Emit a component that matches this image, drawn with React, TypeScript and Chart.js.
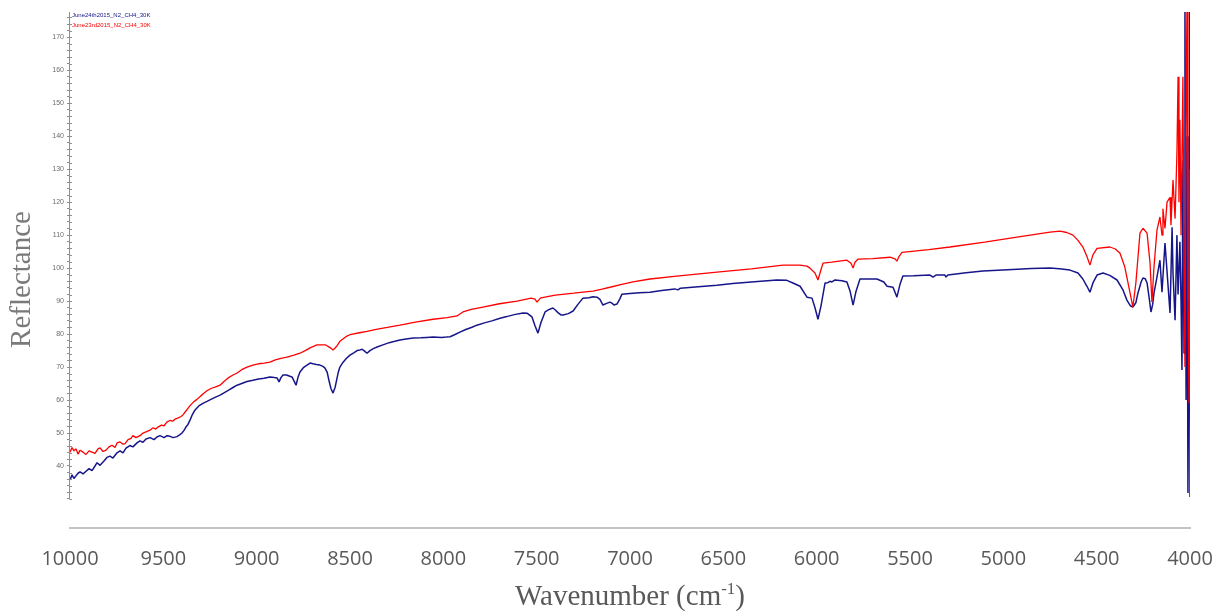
import { useEffect, useRef } from "react";
import { Chart, registerables } from "chart.js";

Chart.register(...registerables);

// Series names (inner legend)
const seriesNames = ["June24th2015_N2_CH4_30K", "June23rd2015_N2_CH4_30K"];
const seriesColors = ["#16168a", "#ff0000"];

// Axis ticks
const xTickValues = [10000, 9500, 9000, 8500, 8000, 7500, 7000, 6500, 6000, 5500, 5000, 4500, 4000];
const yTickMarks = Array.from({ length: 74 }, (_, i) => 30 + i * 2); // minor tick marks every 2 units
const yTickLabels = [40, 50, 60, 70, 80, 90, 100, 110, 120, 130, 140, 150, 160, 170];

const xTitle = "Wavenumber (cm";
const xTitleSup = "-1";
const xTitleEnd = ")";
const yTitle = "Reflectance";

// June24th2015_N2_CH4_30K : [wavenumber, reflectance]
const blueSpectrum: [number, number][] = [
  [10000, 35.8], [9989, 37.3], [9979, 36.2], [9968, 37.0], [9957, 37.8], [9946, 38.2],
  [9930, 37.6], [9914, 38.4], [9898, 39.2], [9882, 38.6], [9866, 40.0], [9855, 41.0],
  [9839, 40.2], [9818, 41.5], [9802, 42.6], [9786, 43.0], [9770, 42.4], [9748, 44.0],
  [9732, 44.6], [9716, 44.0], [9700, 45.4], [9679, 46.2], [9663, 45.8], [9641, 47.0],
  [9625, 47.6], [9609, 47.2], [9593, 48.2], [9571, 48.6], [9550, 48.0], [9534, 48.8],
  [9518, 49.2], [9496, 48.6], [9480, 49.2], [9464, 49.0], [9448, 48.6], [9427, 48.9],
  [9411, 49.5], [9400, 50.0], [9389, 50.8], [9379, 51.8], [9368, 52.6], [9357, 53.9],
  [9346, 55.4], [9330, 57.0], [9310, 58.2], [9288, 59.0], [9266, 59.6], [9245, 60.2],
  [9220, 60.9], [9196, 61.5], [9175, 62.2], [9150, 63.0], [9127, 63.8], [9105, 64.5],
  [9080, 65.0], [9052, 65.6], [9020, 66.0], [8990, 66.4], [8960, 66.6], [8929, 67.0],
  [8905, 66.8], [8891, 66.7], [8880, 65.5], [8870, 66.8], [8859, 67.6], [8840, 67.6],
  [8822, 67.2], [8811, 67.0], [8800, 65.8], [8789, 64.5], [8779, 66.8], [8768, 68.5],
  [8750, 69.8], [8730, 70.6], [8714, 71.2], [8698, 71.0], [8680, 70.8], [8661, 70.6],
  [8645, 70.2], [8634, 69.7], [8622, 68.4], [8613, 66.0], [8602, 63.5], [8591, 62.1],
  [8580, 63.8], [8570, 66.5], [8562, 68.6], [8554, 70.0], [8538, 71.4], [8520, 72.6],
  [8500, 73.6], [8478, 74.4], [8462, 75.0], [8446, 75.2], [8435, 75.4], [8425, 75.0],
  [8409, 74.2], [8393, 75.0], [8375, 75.6], [8355, 76.1], [8320, 76.8], [8290, 77.4],
  [8260, 77.8], [8232, 78.2], [8200, 78.5], [8160, 78.8], [8120, 78.9], [8090, 79.0],
  [8055, 79.1], [8010, 79.0], [7985, 79.1], [7964, 79.2], [7940, 79.8], [7911, 80.6],
  [7880, 81.4], [7850, 82.0], [7820, 82.7], [7780, 83.4], [7740, 84.0], [7696, 84.8],
  [7660, 85.3], [7620, 85.9], [7573, 86.4], [7550, 86.3], [7525, 85.2], [7509, 82.5],
  [7493, 80.3], [7477, 83.5], [7455, 86.7], [7435, 87.4], [7413, 87.9], [7400, 87.3],
  [7386, 86.5], [7370, 85.8], [7359, 85.8], [7330, 86.2], [7305, 87.0], [7279, 89.0],
  [7252, 90.9], [7220, 91.0], [7198, 91.3], [7177, 91.2], [7161, 90.5], [7145, 88.8],
  [7125, 89.3], [7107, 89.7], [7095, 89.3], [7086, 88.8], [7070, 89.1], [7055, 90.6],
  [7043, 92.1], [7000, 92.3], [6950, 92.5], [6893, 92.7], [6830, 93.2], [6760, 93.7],
  [6743, 93.4], [6730, 93.9], [6650, 94.3], [6534, 94.8], [6450, 95.3], [6350, 95.8],
  [6213, 96.4], [6160, 96.3], [6127, 95.5], [6089, 94.5], [6052, 91.2], [6025, 90.9],
  [6009, 88.0], [5993, 84.5], [5977, 88.5], [5955, 95.5], [5940, 95.6], [5929, 96.0],
  [5918, 95.8], [5902, 96.4], [5864, 96.2], [5838, 95.8], [5821, 93.0], [5805, 88.8],
  [5789, 93.0], [5768, 96.7], [5677, 96.7], [5640, 95.8], [5623, 94.5], [5591, 94.2],
  [5570, 91.2], [5554, 95.0], [5538, 97.6], [5480, 97.7], [5393, 97.9], [5377, 97.3],
  [5361, 97.9], [5313, 97.9], [5307, 97.3], [5297, 97.9], [5200, 98.6], [5109, 99.1],
  [4950, 99.6], [4850, 99.9], [4750, 100.0], [4700, 99.8], [4643, 99.4], [4600, 98.5],
  [4574, 96.7], [4552, 94.5], [4536, 92.7], [4520, 95.5], [4498, 97.9], [4466, 98.5],
  [4430, 97.8], [4391, 96.4], [4360, 93.5], [4338, 90.3], [4320, 88.6], [4306, 88.2],
  [4290, 89.5], [4279, 92.4], [4262, 95.8], [4252, 97.0], [4240, 96.8], [4230, 95.5],
  [4220, 91.5], [4209, 86.7], [4200, 89.0], [4193, 92.4], [4177, 97.3], [4161, 102.4],
  [4150, 92.7], [4134, 107.6], [4118, 95.0], [4107, 86.4], [4096, 112.4], [4091, 98.5],
  [4080, 84.2], [4070, 110.0], [4064, 92.0], [4054, 108.0], [4048, 90.0], [4043, 69.1],
  [4038, 132.7], [4032, 74.2], [4027, 180.0], [4021, 60.0], [4016, 140.0], [4011, 31.8],
  [4005, 90.0], [4002, 180.0], [4000, 30.6],
];

// June23rd2015_N2_CH4_30K : [wavenumber, reflectance]
const redSpectrum: [number, number][] = [
  [10000, 44.2], [9989, 45.6], [9979, 44.6], [9968, 45.2], [9957, 43.6], [9946, 44.8],
  [9930, 44.2], [9914, 43.5], [9898, 44.6], [9882, 44.2], [9866, 43.8], [9850, 45.2],
  [9839, 45.5], [9823, 44.4], [9807, 44.8], [9791, 45.8], [9775, 46.3], [9759, 45.6],
  [9748, 47.0], [9732, 47.3], [9716, 46.6], [9705, 46.8], [9689, 48.0], [9673, 48.4],
  [9663, 49.2], [9647, 48.6], [9625, 49.2], [9609, 50.0], [9590, 50.4], [9571, 50.9],
  [9555, 51.6], [9540, 51.2], [9529, 51.8], [9510, 52.4], [9496, 52.2], [9480, 53.4],
  [9464, 53.8], [9450, 53.6], [9438, 54.2], [9420, 54.6], [9405, 55.0], [9395, 55.5],
  [9380, 56.6], [9368, 57.5], [9357, 58.3], [9340, 59.3], [9320, 60.2], [9304, 61.0],
  [9285, 62.0], [9266, 62.8], [9245, 63.5], [9220, 64.0], [9196, 64.5], [9175, 65.6],
  [9150, 66.8], [9127, 67.6], [9105, 68.2], [9080, 69.2], [9052, 70.0], [9020, 70.6],
  [8990, 71.0], [8960, 71.2], [8929, 71.5], [8900, 72.2], [8870, 72.6], [8838, 73.0],
  [8800, 73.6], [8768, 74.2], [8740, 75.0], [8714, 75.8], [8677, 76.7], [8630, 76.7],
  [8607, 75.9], [8591, 75.2], [8580, 75.8], [8570, 76.4], [8554, 77.8], [8520, 79.3],
  [8500, 79.8], [8450, 80.4], [8409, 80.8], [8360, 81.4], [8300, 82.0], [8232, 82.7],
  [8150, 83.6], [8055, 84.5], [7980, 85.0], [7927, 85.5], [7895, 86.7], [7850, 87.5],
  [7788, 88.2], [7700, 89.2], [7605, 90.0], [7573, 90.4], [7530, 90.9], [7509, 90.6],
  [7498, 89.7], [7485, 90.6], [7477, 91.0], [7400, 91.8], [7300, 92.4], [7252, 92.7],
  [7198, 93.0], [7150, 93.6], [7107, 94.2], [7050, 95.0], [6984, 95.8], [6893, 96.7],
  [6750, 97.6], [6534, 98.8], [6350, 99.8], [6180, 100.9], [6089, 100.9], [6052, 100.6],
  [6036, 100.0], [6009, 98.5], [5993, 96.4], [5977, 99.5], [5966, 101.5], [5920, 101.8],
  [5838, 102.4], [5816, 101.5], [5805, 100.0], [5795, 101.8], [5779, 102.7], [5700, 102.9],
  [5607, 103.3], [5580, 102.8], [5570, 102.1], [5559, 103.5], [5543, 104.8], [5400, 105.6],
  [5286, 106.4], [5100, 107.9], [4927, 109.4], [4750, 110.9], [4697, 111.2], [4660, 110.8],
  [4627, 110.0], [4600, 108.4], [4574, 106.4], [4552, 103.5], [4536, 100.9], [4520, 104.0],
  [4498, 106.0], [4429, 106.4], [4400, 105.8], [4375, 104.5], [4350, 100.5], [4332, 95.5],
  [4306, 88.2], [4290, 95.5], [4268, 110.6], [4252, 112.1], [4230, 110.6], [4214, 101.5],
  [4204, 89.7], [4193, 100.3], [4177, 111.5], [4161, 115.5], [4150, 110.0], [4145, 118.0],
  [4134, 112.0], [4123, 120.0], [4107, 121.5], [4102, 113.0], [4091, 126.7], [4080, 115.0],
  [4070, 135.0], [4064, 158.0], [4059, 120.0], [4054, 145.0], [4048, 110.0], [4038, 158.0],
  [4032, 100.0], [4027, 70.0], [4021, 150.0], [4016, 180.0], [4011, 90.0], [4005, 59.0],
  [4000, 130.0],
];

const decorations = {
  id: "decorations",
  afterDraw(chart: any) {
    const { ctx, chartArea, scales } = chart;
    const y = scales.y;
    const x = scales.x;
    ctx.save();

    // inner y-axis line (ends at value 30) with right-side ticks
    const yBottom = y.getPixelForValue(30);
    const ax = Math.round(chartArea.left) - 0.5;
    ctx.strokeStyle = "#8f8f8f";
    ctx.lineWidth = 1;
    ctx.beginPath();
    ctx.moveTo(ax, chartArea.top);
    ctx.lineTo(ax, yBottom);
    yTickMarks.forEach((v) => {
      const p = Math.round(y.getPixelForValue(v)) + 0.5;
      ctx.moveTo(ax, p);
      ctx.lineTo(ax + 2.5, p);
    });
    ctx.stroke();

    // inner legend
    ctx.font = '6px "Liberation Sans", Arial, sans-serif';
    ctx.textBaseline = "middle";
    ctx.textAlign = "left";
    ctx.fillStyle = seriesColors[0];
    ctx.fillText(seriesNames[0], chartArea.left + 2, 15);
    ctx.fillStyle = seriesColors[1];
    ctx.fillText(seriesNames[1], chartArea.left + 2, 25);

    // y title
    ctx.save();
    ctx.translate(22, (y.getPixelForValue(30) + chartArea.top) / 2 + 24);
    ctx.rotate(-Math.PI / 2);
    ctx.font = '29px "Liberation Serif", "Times New Roman", serif';
    ctx.fillStyle = "#7a7a7a";
    ctx.textAlign = "center";
    ctx.textBaseline = "middle";
    ctx.fillText(yTitle, 0, 0);
    ctx.restore();

    // x title with superscript
    const mainFont = '29px "Liberation Serif", "Times New Roman", serif';
    const supFont = '17px "Liberation Serif", "Times New Roman", serif';
    ctx.font = mainFont;
    const w1 = ctx.measureText(xTitle).width;
    const w3 = ctx.measureText(xTitleEnd).width;
    ctx.font = supFont;
    const w2 = ctx.measureText(xTitleSup).width;
    const total = w1 + w2 + w3;
    const cx = (x.left + x.right) / 2;
    let sx = cx - total / 2;
    const base = 605;
    ctx.textAlign = "left";
    ctx.textBaseline = "alphabetic";
    ctx.fillStyle = "#595959";
    ctx.font = mainFont;
    ctx.fillText(xTitle, sx, base);
    sx += w1;
    ctx.font = supFont;
    ctx.fillText(xTitleSup, sx, base - 11);
    sx += w2;
    ctx.font = mainFont;
    ctx.fillText(xTitleEnd, sx, base);

    ctx.restore();
  },
};

export default function App() {
  const canvasRef = useRef<HTMLCanvasElement | null>(null);

  useEffect(() => {
    if (!canvasRef.current) return;
    const chart = new Chart(canvasRef.current, {
      type: "line",
      data: {
        datasets: [
          {
            label: seriesNames[1],
            data: redSpectrum.map(([wn, r]) => ({ x: wn, y: r })),
            borderColor: seriesColors[1],
            borderWidth: 1.3,
            pointRadius: 0,
            tension: 0,
            borderJoinStyle: "bevel",
          },
          {
            label: seriesNames[0],
            data: blueSpectrum.map(([wn, r]) => ({ x: wn, y: r })),
            borderColor: seriesColors[0],
            borderWidth: 1.5,
            pointRadius: 0,
            tension: 0,
            borderJoinStyle: "bevel",
          },
        ],
      },
      options: {
        animation: false,
        responsive: false,
        devicePixelRatio: 1,
        layout: { padding: { left: 0, right: 27, top: 12, bottom: 0 } },
        plugins: {
          legend: { display: false },
          tooltip: { enabled: false },
        },
        scales: {
          x: {
            type: "linear",
            reverse: true,
            min: 4000,
            max: 10000,
            afterBuildTicks: (s: any) => {
              s.ticks = xTickValues.map((v) => ({ value: v }));
            },
            afterFit: (s: any) => {
              s.height = 83;
              s.paddingLeft = 0;
              s.paddingRight = 0;
            },
            grid: { display: false, drawTicks: false, tickLength: 0 },
            border: { display: true, color: "#c3c3c3", width: 2 },
            ticks: {
              autoSkip: false,
              maxRotation: 0,
              padding: 19,
              color: "#595959",
              font: { family: '"Open Sans", sans-serif', size: 20 },
              callback: (v: any) => String(v),
            },
            title: { display: false },
          },
          y: {
            type: "linear",
            min: 21.2,
            max: 177.66,
            afterBuildTicks: (s: any) => {
              s.ticks = yTickMarks.map((v) => ({ value: v }));
            },
            afterFit: (s: any) => {
              s.width = 70;
              s.paddingTop = 0;
              s.paddingBottom = 0;
            },
            grid: {
              display: true,
              drawOnChartArea: false,
              drawTicks: true,
              tickLength: 3,
              color: "#8f8f8f",
            },
            border: { display: false },
            ticks: {
              autoSkip: false,
              padding: 3,
              color: "#6b6b6b",
              font: { family: '"Liberation Sans", Arial, sans-serif', size: 7 },
              callback: (v: any) => (yTickLabels.includes(Number(v)) ? String(v) : ""),
            },
            title: { display: false },
          },
        },
      },
      plugins: [decorations],
    });
    return () => chart.destroy();
  }, []);

  return (
    <div style={{ position: "fixed", left: 0, top: 0, width: 1217, height: 611, background: "#ffffff" }}>
      <canvas ref={canvasRef} width={1217} height={611} style={{ display: "block" }} />
    </div>
  );
}
